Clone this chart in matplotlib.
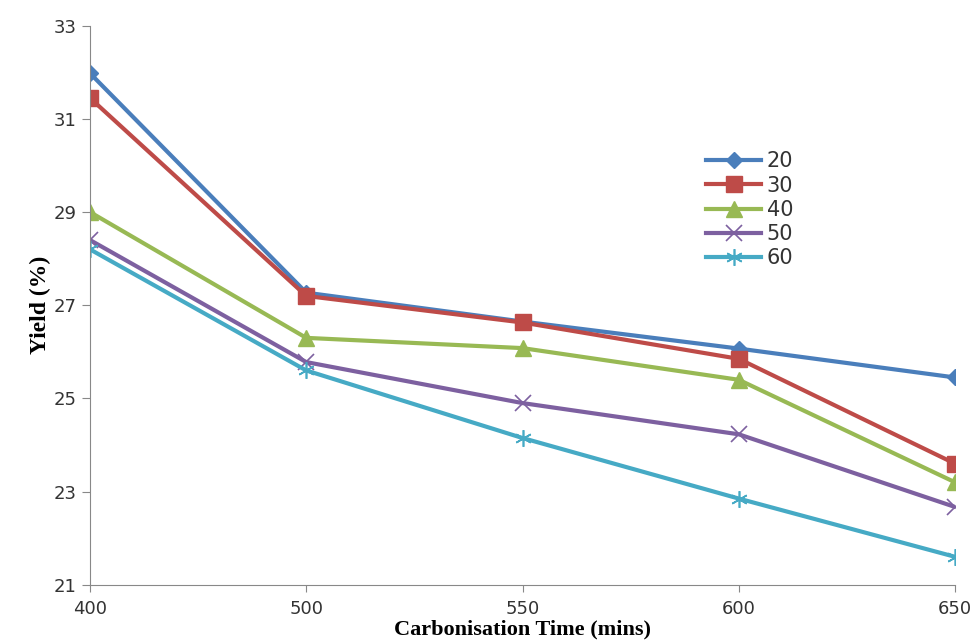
import matplotlib.pyplot as plt

# Waktu karbonisasi (kategori sumbu x)
times = ['400', '500', '550', '600', '650']

# Yield (%) per seri
y20 = [31.98, 27.27, 26.65, 26.07, 25.45]
y30 = [31.45, 27.2, 26.63, 25.85, 23.6]
y40 = [29.0, 26.3, 26.08, 25.4, 23.2]
y50 = [28.4, 25.78, 24.9, 24.23, 22.67]
y60 = [28.2, 25.6, 24.15, 22.85, 21.6]

series_labels = ['20', '30', '40', '50', '60']

fig = plt.figure(figsize=(9.73, 6.44), dpi=100)
ax = fig.add_axes([0.0925, 0.092, 0.889, 0.868])

xs = range(len(times))
ax.plot(xs, y20, color='#4A7EBB', lw=3, marker='D', ms=8, label=series_labels[0])
ax.plot(xs, y30, color='#BE4B48', lw=3, marker='s', ms=11, label=series_labels[1])
ax.plot(xs, y40, color='#98B954', lw=3, marker='^', ms=11, label=series_labels[2])
ax.plot(xs, y50, color='#7D60A0', lw=3, marker='x', ms=11, mew=1.2, label=series_labels[3])
ax.plot(xs, y60, color='#46AAC5', lw=3, marker=(6, 2, 0), ms=12, mew=1.2, label=series_labels[4])

ax.set_xlim(0, len(times) - 1)
ax.set_ylim(21, 33)
ax.set_xticks(list(xs))
ax.set_xticklabels(times)
ax.set_yticks([21, 23, 25, 27, 29, 31, 33])

for side in ['top', 'right']:
    ax.spines[side].set_visible(False)
for side in ['left', 'bottom']:
    ax.spines[side].set_color('#888888')
ax.tick_params(colors='#888888', labelcolor='#333333', labelsize=13, length=6)
ax.tick_params(axis='x', pad=6, length=5)

ax.set_xlabel('Carbonisation Time (mins)', family='Liberation Serif', fontweight='bold', fontsize=16, labelpad=1)
ax.set_ylabel('Yield (%)', family='Liberation Serif', fontweight='bold', fontsize=17, labelpad=2)

leg = ax.legend(loc='upper left', bbox_to_anchor=(0.703, 0.79), frameon=False, fontsize=15,
                handlelength=2.6, labelspacing=0.2, handletextpad=0.3, borderaxespad=0)
for t in leg.get_texts():
    t.set_color('#333333')

fig.savefig('out.png', dpi=100)
